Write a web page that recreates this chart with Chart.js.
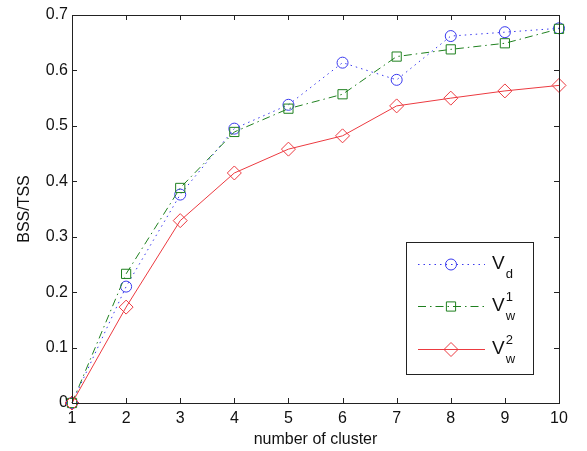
<!DOCTYPE html>
<html>
<head>
<meta charset="utf-8">
<script src="https://cdn.jsdelivr.net/npm/chart.js@4.4.1/dist/chart.umd.min.js"></script>
<style>
  html, body { margin: 0; padding: 0; background: #fff; }
  #wrap { position: relative; width: 587px; height: 451px; }
</style>
</head>
<body>
<div id="wrap"><canvas id="c" width="587" height="451"></canvas></div>
<script>
// number of cluster (x)
const clusters = [1, 2, 3, 4, 5, 6, 7, 8, 9, 10];
// BSS/TSS per measure
const vd  = [0, 0.210, 0.376, 0.495, 0.538, 0.614, 0.583, 0.662, 0.669, 0.676];
const vw1 = [0, 0.233, 0.388, 0.489, 0.531, 0.557, 0.625, 0.638, 0.649, 0.675];
const vw2 = [0, 0.173, 0.329, 0.415, 0.458, 0.482, 0.536, 0.550, 0.563, 0.573];
const yTicks = [0, 0.1, 0.2, 0.3, 0.4, 0.5, 0.6, 0.7];

// legend text pieces: main letter, subscript, superscript
const legendText = [
    { main: 'V', sub: 'd', sup: '' },
    { main: 'V', sub: 'w', sup: '1' },
    { main: 'V', sub: 'w', sup: '2' }
];

const FONT = "'Liberation Sans', Arial, sans-serif";

const toPoints = arr => arr.map((v, i) => ({ x: clusters[i], y: v }));

// MATLAB style box with inward ticks on all four sides
const boxPlugin = {
    id: 'box',
    afterDraw(chart) {
        const { ctx, chartArea: a, scales } = chart;
        ctx.save();
        ctx.strokeStyle = '#222';
        ctx.lineWidth = 1;
        ctx.beginPath();
        scales.x.ticks.forEach(t => {
            const px = Math.round(scales.x.getPixelForValue(t.value)) + 0.5;
            ctx.moveTo(px, a.bottom); ctx.lineTo(px, a.bottom - 5);
            ctx.moveTo(px, a.top); ctx.lineTo(px, a.top + 5);
        });
        scales.y.ticks.forEach(t => {
            const py = Math.round(scales.y.getPixelForValue(t.value)) + 0.5;
            ctx.moveTo(a.left, py); ctx.lineTo(a.left + 5, py);
            ctx.moveTo(a.right, py); ctx.lineTo(a.right - 5, py);
        });
        ctx.stroke();
        ctx.strokeRect(Math.round(a.left) + 0.5, Math.round(a.top) + 0.5,
            Math.round(a.right - a.left), Math.round(a.bottom - a.top));
        ctx.restore();
    }
};

// legend with sub/superscripts, drawn from the dataset styles
const legendPlugin = {
    id: 'mlegend',
    afterDraw(chart) {
        const { ctx } = chart;
        const bx = 406, by = 242, bw = 127, bh = 132;
        ctx.save();
        ctx.fillStyle = '#fff';
        ctx.fillRect(bx, by, bw, bh);
        ctx.strokeStyle = '#222';
        ctx.lineWidth = 1;
        ctx.strokeRect(bx + 0.5, by + 0.5, bw, bh);
        const rows = [264, 306, 349];
        chart.data.datasets.forEach((ds, i) => {
            const y = rows[i] + 0.5;
            ctx.save();
            ctx.strokeStyle = ds.borderColor;
            ctx.lineWidth = ds.borderWidth;
            ctx.setLineDash(ds.borderDash || []);
            ctx.beginPath();
            ctx.moveTo(418, y); ctx.lineTo(485, y);
            ctx.stroke();
            ctx.setLineDash([]);
            ctx.fillStyle = 'rgba(0,0,0,0)';
            Chart.helpers.drawPoint(ctx, {
                pointStyle: ds.pointStyle, radius: ds.pointRadius, rotation: 0, borderWidth: 1
            }, 451, y);
            ctx.restore();

            const t = legendText[i];
            ctx.fillStyle = '#111';
            ctx.textBaseline = 'alphabetic';
            ctx.textAlign = 'left';
            ctx.font = '19px ' + FONT;
            ctx.fillText(t.main, 492, rows[i] + 5);
            const w = ctx.measureText(t.main).width;
            ctx.font = '13px ' + FONT;
            if (t.sub) ctx.fillText(t.sub, 492 + w + 1, rows[i] + 14);
            if (t.sup) ctx.fillText(t.sup, 492 + w + 1, rows[i] - 5);
        });
        ctx.restore();
    }
};

new Chart(document.getElementById('c').getContext('2d'), {
    type: 'line',
    data: {
        datasets: [
            {
                label: 'Vd', data: toPoints(vd),
                borderColor: '#3a3aee', backgroundColor: 'rgba(0,0,0,0)',
                borderWidth: 1, borderDash: [1.5, 4],
                pointStyle: 'circle', pointRadius: 5.5, pointBorderWidth: 1,
                pointBackgroundColor: 'rgba(0,0,0,0)', order: 3, clip: false
            },
            {
                label: 'Vw1', data: toPoints(vw1),
                borderColor: '#1f801f', backgroundColor: 'rgba(0,0,0,0)',
                borderWidth: 1, borderDash: [8, 4, 1.5, 4],
                pointStyle: 'rect', pointRadius: 6.5, pointBorderWidth: 1,
                pointBackgroundColor: 'rgba(0,0,0,0)', order: 2, clip: false
            },
            {
                label: 'Vw2', data: toPoints(vw2),
                borderColor: '#ec3a40', backgroundColor: 'rgba(0,0,0,0)',
                borderWidth: 1,
                pointStyle: 'rectRot', pointRadius: 7, pointBorderWidth: 1,
                pointBackgroundColor: 'rgba(0,0,0,0)', order: 1, clip: false
            }
        ]
    },
    options: {
        responsive: false,
        animation: false,
        layout: { padding: { left: 15, right: 28, top: 15, bottom: 2 } },
        plugins: { legend: { display: false }, tooltip: { enabled: false } },
        scales: {
            x: {
                type: 'linear', min: 1, max: 10,
                afterFit: s => { s.height = 46; },
                ticks: { stepSize: 1, color: '#111', font: { family: FONT, size: 16 }, padding: 6 },
                grid: { display: false, drawTicks: false },
                border: { display: false },
                title: { display: true, text: 'number of cluster', color: '#111',
                    font: { family: FONT, size: 16 }, padding: { top: 0, bottom: 0 } }
            },
            y: {
                type: 'linear', min: 0, max: 0.7,
                afterFit: s => { s.width = 57; },
                afterBuildTicks: s => { s.ticks = yTicks.map(v => ({ value: v })); },
                ticks: { color: '#111', font: { family: FONT, size: 16 }, padding: 4,
                    callback: v => String(Math.round(v * 10) / 10) },
                grid: { display: false, drawTicks: false },
                border: { display: false },
                title: { display: true, text: 'BSS/TSS', color: '#111',
                    font: { family: FONT, size: 16 }, padding: { top: 0, bottom: 0 } }
            }
        }
    },
    plugins: [boxPlugin, legendPlugin]
});
</script>
</body>
</html>
